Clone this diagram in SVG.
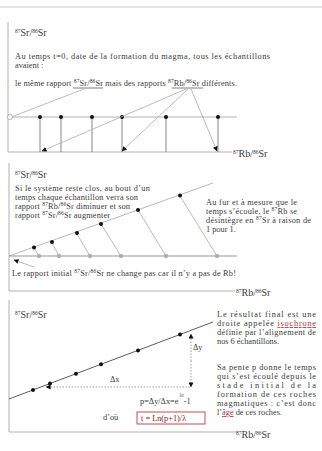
<svg xmlns="http://www.w3.org/2000/svg" width="322" height="451" viewBox="0 0 322 451">
<style>
text{font-family:"Liberation Serif","Times New Roman",serif;fill:#3a3a3a}
.b{font-size:8.3px}
.t{font-size:10px}
.s{font-size:5.5px}
.ax{stroke:#b0b0b0;stroke-width:1;fill:none}
.ln{stroke:#aaa;stroke-width:0.8;fill:none}
.dk{stroke:#555;stroke-width:0.7;fill:none}
.dot{fill:#111}
.gdot{fill:#b0b0b0}
.dash{stroke:#777;stroke-width:0.7;stroke-dasharray:1.5 1.5;fill:none}
.red{fill:#b03030}
</style>
<defs>
<marker id="ah" viewBox="0 0 6 6" refX="5.5" refY="3" markerWidth="5" markerHeight="5" orient="auto" markerUnits="userSpaceOnUse">
<path d="M0,0 L6,3 L0,6 z" fill="#111"/>
</marker>
</defs>
<line x1="0" y1="7" x2="322" y2="7" stroke="#ccc" stroke-width="1"/>

<!-- Panel 1 -->
<g id="panel1">
<line class="ax" x1="8" y1="22" x2="8" y2="152"/>
<line class="ax" x1="8" y1="152" x2="232" y2="152"/>
<line class="ax" x1="8" y1="117" x2="237" y2="117"/>
<text class="t" x="15" y="36"><tspan class="s" dy="-3.5">87</tspan><tspan dy="3.5">Sr/</tspan><tspan class="s" dy="-3.5">86</tspan><tspan dy="3.5">Sr</tspan></text>
<text class="b" x="15" y="59" textLength="255" lengthAdjust="spacing">Au temps t=0, date de la formation du magma, tous les échantillons</text>
<text class="b" x="15" y="67.5">avaient :</text>
<text class="b" x="15" y="86" textLength="222" lengthAdjust="spacing">le même rapport <tspan class="s" dy="-3">87</tspan><tspan dy="3">Sr/</tspan><tspan class="s" dy="-3">86</tspan><tspan dy="3">Sr mais des rapports </tspan><tspan class="s" dy="-3">87</tspan><tspan dy="3">Rb/</tspan><tspan class="s" dy="-3">86</tspan><tspan dy="3">Sr différents.</tspan></text>
<line x1="73" y1="88" x2="103" y2="88" stroke="#444" stroke-width="0.7"/>
<line x1="172" y1="88" x2="203" y2="88" stroke="#444" stroke-width="0.7"/>
<text class="t" x="233" y="157"><tspan class="s" dy="-3.5">87</tspan><tspan dy="3.5">Rb/</tspan><tspan class="s" dy="-3.5">86</tspan><tspan dy="3.5">Sr</tspan></text>
</g>
<g id="p1-samples">
<line class="dk" x1="40" y1="117" x2="40" y2="152"/>
<line class="dk" x1="61" y1="117" x2="61" y2="152"/>
<line class="dk" x1="92" y1="117" x2="92" y2="152"/>
<line class="dk" x1="122" y1="117" x2="122" y2="152"/>
<line class="dk" x1="166" y1="117" x2="166" y2="152"/>
<line class="dk" x1="218" y1="117" x2="218" y2="152"/>
<circle class="dot" cx="40" cy="117" r="2"/>
<circle class="dot" cx="61" cy="117" r="2"/>
<circle class="dot" cx="92" cy="117" r="2"/>
<circle class="dot" cx="122" cy="117" r="2"/>
<circle class="dot" cx="166" cy="117" r="2"/>
<circle class="dot" cx="218" cy="117" r="2"/>
<circle cx="10" cy="117" r="2.5" fill="#fff" stroke="#999" stroke-width="0.7"/>
</g>

<!-- Panel 2 -->
<g id="panel2">
<line class="ax" x1="9" y1="163" x2="9" y2="291"/>
<line class="ax" x1="9" y1="291" x2="235" y2="291"/>
<line x1="9" y1="256" x2="237" y2="256" stroke="#b8b8b8" stroke-width="1.6"/>
<line x1="9" y1="256" x2="213" y2="183" stroke="#999" stroke-width="0.7"/>
<text class="t" x="15" y="178"><tspan class="s" dy="-3.5">87</tspan><tspan dy="3.5">Sr/</tspan><tspan class="s" dy="-3.5">86</tspan><tspan dy="3.5">Sr</tspan></text>
<text class="b" x="15" y="190.5" textLength="135" lengthAdjust="spacing">Si le système reste clos, au bout d’un</text>
<text class="b" x="15" y="199.5" textLength="123" lengthAdjust="spacing">temps chaque échantillon verra son</text>
<text class="b" x="15" y="208.5" textLength="115" lengthAdjust="spacing">rapport <tspan class="s" dy="-3">87</tspan><tspan dy="3">Rb/</tspan><tspan class="s" dy="-3">86</tspan><tspan dy="3">Sr diminuer et son</tspan></text>
<text class="b" x="15" y="217.5" textLength="95" lengthAdjust="spacing">rapport <tspan class="s" dy="-3">87</tspan><tspan dy="3">Sr/</tspan><tspan class="s" dy="-3">86</tspan><tspan dy="3">Sr augmenter</tspan></text>
<text class="b" x="206" y="205" textLength="91" lengthAdjust="spacing">Au fur et à mesure que le</text>
<text class="b" x="206" y="214" textLength="91" lengthAdjust="spacing">temps s’écoule, le <tspan class="s" dy="-3">87</tspan><tspan dy="3">Rb se</tspan></text>
<text class="b" x="206" y="223" textLength="105" lengthAdjust="spacing">désintègre en <tspan class="s" dy="-3">87</tspan><tspan dy="3">Sr à raison de</tspan></text>
<text class="b" x="206" y="232">1 pour 1.</text>
<text class="b" x="12" y="276" textLength="224" lengthAdjust="spacing">Le rapport initial <tspan class="s" dy="-3">87</tspan><tspan dy="3">Sr/</tspan><tspan class="s" dy="-3">86</tspan><tspan dy="3">Sr ne change pas car il n’y a pas de Rb!</tspan></text>
<text class="t" x="236" y="296"><tspan class="s" dy="-3.5">87</tspan><tspan dy="3.5">Rb/</tspan><tspan class="s" dy="-3.5">86</tspan><tspan dy="3.5">Sr</tspan></text>
</g>
<g id="p2-samples">
<line class="ln" x1="39" y1="256" x2="34" y2="248"/>
<line class="ln" x1="59" y1="256" x2="52" y2="243"/>
<line class="ln" x1="90" y1="256" x2="77" y2="234"/>
<line class="ln" x1="121" y1="256" x2="101" y2="224"/>
<line class="ln" x1="166" y1="256" x2="138" y2="210"/>
<line class="ln" x1="217" y1="256" x2="180" y2="196"/>
<circle class="gdot" cx="39" cy="256" r="2.2"/>
<circle class="gdot" cx="59" cy="256" r="2.2"/>
<circle class="gdot" cx="90" cy="256" r="2.2"/>
<circle class="gdot" cx="121" cy="256" r="2.2"/>
<circle class="gdot" cx="166" cy="256" r="2.2"/>
<circle class="gdot" cx="217" cy="256" r="2.2"/>
<circle class="dot" cx="34" cy="247.5" r="2"/>
<circle class="dot" cx="52" cy="242" r="2"/>
<circle class="dot" cx="77" cy="233" r="2"/>
<circle class="dot" cx="101" cy="224" r="2"/>
<circle class="dot" cx="138" cy="210" r="2"/>
<circle class="dot" cx="180" cy="195.5" r="2"/>
</g>

<!-- Panel 3 -->
<g id="panel3">
<line class="ax" x1="9" y1="300" x2="9" y2="432"/>
<line class="ax" x1="9" y1="432" x2="238" y2="432"/>
<line x1="9" y1="399" x2="213" y2="322" stroke="#333" stroke-width="0.8"/>
<text class="t" x="15" y="318"><tspan class="s" dy="-3.5">87</tspan><tspan dy="3.5">Sr/</tspan><tspan class="s" dy="-3.5">86</tspan><tspan dy="3.5">Sr</tspan></text>
<text class="b" x="217" y="317" textLength="99" lengthAdjust="spacing">Le résultat final est une</text>
<text class="b" x="217" y="326" textLength="99" lengthAdjust="spacing">droite appelée <tspan class="red" text-decoration="underline">isochrone</tspan></text>
<text class="b" x="217" y="335" textLength="99" lengthAdjust="spacing">définie par l’alignement de</text>
<text class="b" x="217" y="344">nos  6 échantillons.</text>
<text class="b" x="217" y="370" textLength="99" lengthAdjust="spacing">Sa pente  p donne le temps</text>
<text class="b" x="217" y="379" textLength="99" lengthAdjust="spacing">qui s’est écoulé depuis le</text>
<text class="b" x="217" y="388" textLength="99" lengthAdjust="spacing">stade initial de la</text>
<text class="b" x="217" y="397" textLength="99" lengthAdjust="spacing">formation de ces roches</text>
<text class="b" x="217" y="406" textLength="99" lengthAdjust="spacing">magmatiques : c’est donc</text>
<text class="b" x="217" y="415">l’<tspan class="red" text-decoration="underline">âge</tspan> de ces roches.</text>
<text class="t" x="236" y="438"><tspan class="s" dy="-3.5">87</tspan><tspan dy="3.5">Rb/</tspan><tspan class="s" dy="-3.5">86</tspan><tspan dy="3.5">Sr</tspan></text>
<text class="b" x="110" y="382">Δx</text>
<text class="b" x="193" y="350">Δy</text>
<text class="b" x="140" y="404">p=Δy/Δx=e<tspan class="s" dx="1" dy="-7">λt</tspan><tspan dy="7">-1</tspan></text>
<text class="b" x="103" y="420">d’où</text>
<rect x="137" y="412" width="68" height="12" fill="none" stroke="#c03a3a" stroke-width="0.9"/>
<text class="b" x="141" y="421" fill="#8b1a1a" style="fill:#8b1a1a">t = Ln(p+1)/λ</text>
</g>
<g id="p3-samples">
<circle class="dot" cx="33" cy="390" r="2"/>
<circle class="dot" cx="50" cy="383.5" r="2"/>
<circle class="dot" cx="76" cy="373.7" r="2"/>
<circle class="dot" cx="101" cy="364.3" r="2"/>
<circle class="dot" cx="138" cy="350.4" r="2"/>
<circle class="dot" cx="180" cy="334.5" r="2"/>
</g>

<g id="connectors">
<line class="ln" x1="84" y1="89" x2="12.5" y2="116.5"/>
<line class="ln" x1="186" y1="89" x2="42" y2="151" marker-end="url(#ah)"/>
<line class="ln" x1="188" y1="89" x2="122" y2="151" marker-end="url(#ah)"/>
<line class="ln" x1="191" y1="89" x2="217" y2="151" marker-end="url(#ah)"/>
<line class="ln" x1="34" y1="267" x2="14" y2="260" marker-end="url(#ah)"/>
<line class="dash" x1="190" y1="387" x2="46" y2="387" marker-end="url(#ah)"/>
<line class="dash" x1="191" y1="361" x2="191" y2="334" marker-end="url(#ah)"/>
<line class="dash" x1="191" y1="361" x2="191" y2="387" marker-end="url(#ah)"/>
</g>
</svg>
